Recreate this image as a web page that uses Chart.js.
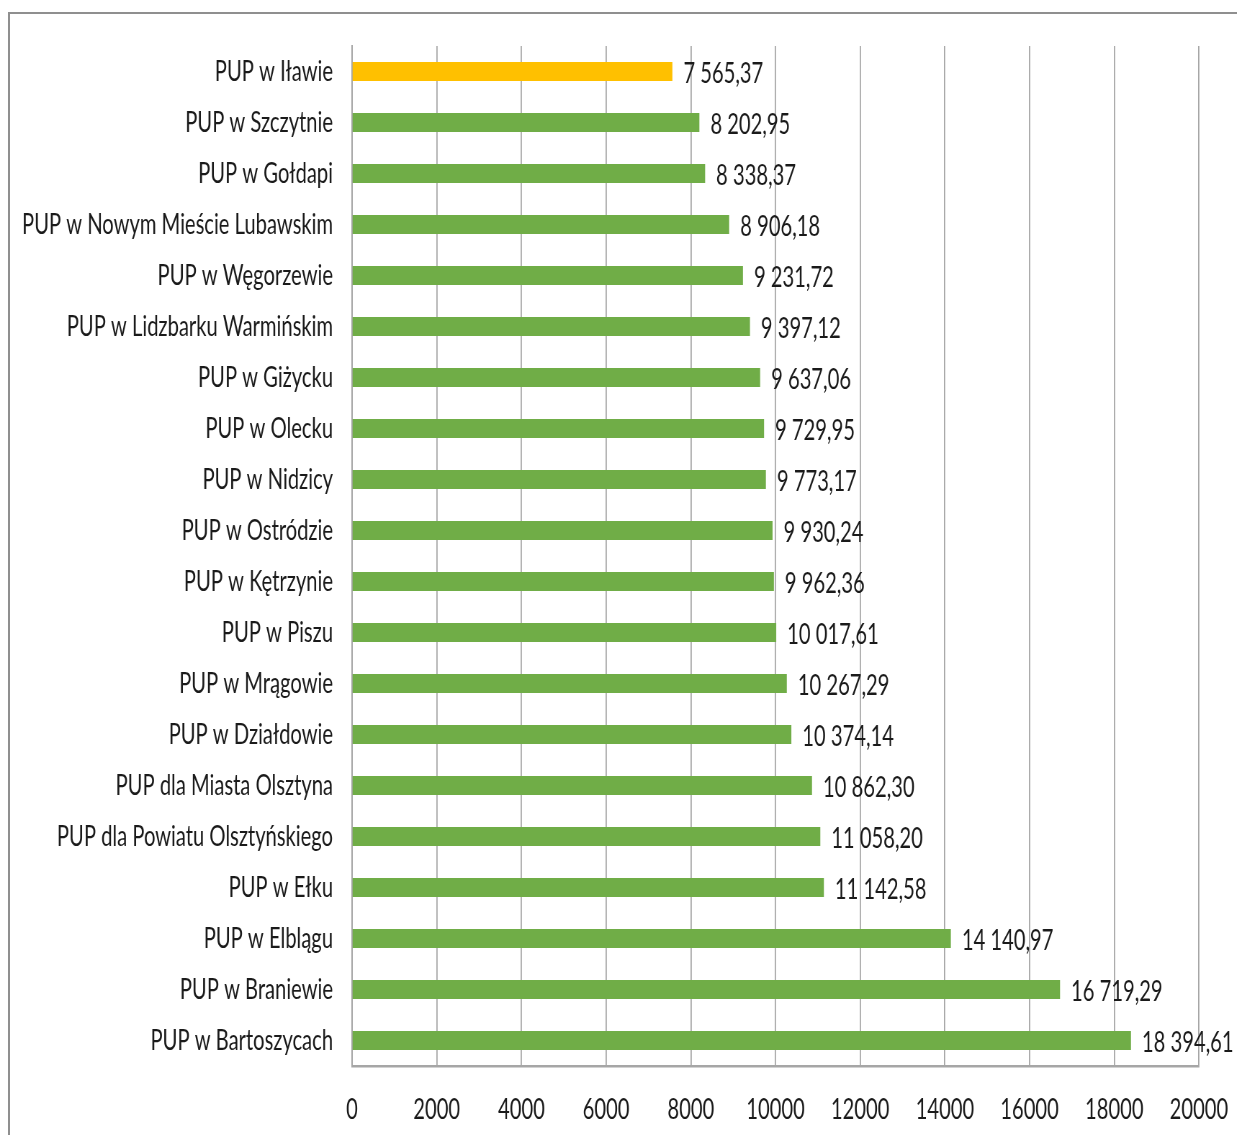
<!DOCTYPE html>
<html>
<head>
<meta charset="utf-8">
<script src="https://cdn.jsdelivr.net/npm/chart.js@4/dist/chart.umd.min.js"></script>
<style>
  html, body { margin: 0; padding: 0; background: #fff; }
  #wrap { position: relative; width: 1237px; height: 1135px; overflow: hidden; }
  #frame { position: absolute; left: 8px; top: 12px; right: -5px; bottom: -5px;
           border-top: 2px solid #8f8f8f; border-left: 2px solid #8f8f8f; }
  canvas { position: absolute; left: 0; top: 0; transform-origin: 0 0; }
</style>
</head>
<body>
<div id="wrap">
  <div id="frame"></div>
  <canvas id="chart"></canvas>
</div>
<script>
// --- Data ---
const offices = [
    'PUP w Iławie',
    'PUP w Szczytnie',
    'PUP w Gołdapi',
    'PUP w Nowym Mieście Lubawskim',
    'PUP w Węgorzewie',
    'PUP w Lidzbarku Warmińskim',
    'PUP w Giżycku',
    'PUP w Olecku',
    'PUP w Nidzicy',
    'PUP w Ostródzie',
    'PUP w Kętrzynie',
    'PUP w Piszu',
    'PUP w Mrągowie',
    'PUP w Działdowie',
    'PUP dla Miasta Olsztyna',
    'PUP dla Powiatu Olsztyńskiego',
    'PUP w Ełku',
    'PUP w Elblągu',
    'PUP w Braniewie',
    'PUP w Bartoszycach'
];
const amounts = [
    7565.37, 8202.95, 8338.37, 8906.18, 9231.72, 9397.12, 9637.06, 9729.95, 9773.17, 9930.24,
    9962.36, 10017.61, 10267.29, 10374.14, 10862.30, 11058.20, 11142.58, 14140.97, 16719.29, 18394.61
];
const xTicks = [0, 2000, 4000, 6000, 8000, 10000, 12000, 14000, 16000, 18000, 20000];
const highlighted = 'PUP w Iławie';

// the original text is a narrow (squeezed) font, so the canvas is drawn wider and squeezed back
const SQUEEZE = 0.72;
const FONT = 'Lato, "Open Sans", sans-serif';
const TEXT = '#1a1a1a';

const canvas = document.getElementById('chart');
canvas.width = Math.round(1237 / SQUEEZE);
canvas.height = 1135;
canvas.style.width = canvas.width + 'px';
canvas.style.height = '1135px';
canvas.style.transform = 'scaleX(' + SQUEEZE + ')';

const px = (v) => v / SQUEEZE;

function formatPl(v) {
    const parts = v.toFixed(2).split('.');
    const whole = parts[0].replace(/\B(?=(\d{3})+(?!\d))/g, ' ');
    return whole + ',' + parts[1];
}

// draws the value next to each bar
const valueLabels = {
    id: 'valueLabels',
    afterDatasetsDraw(chart) {
        const ctx = chart.ctx;
        const meta = chart.getDatasetMeta(0);
        ctx.save();
        ctx.font = '28px ' + FONT;
        ctx.fillStyle = TEXT;
        ctx.textAlign = 'left';
        ctx.textBaseline = 'middle';
        meta.data.forEach((bar, i) => {
            ctx.fillText(formatPl(amounts[i]), bar.x + px(11), bar.y + 2);
        });
        ctx.restore();
    }
};

new Chart(canvas.getContext('2d'), {
    type: 'bar',
    data: {
        labels: offices,
        datasets: [{
            data: amounts,
            backgroundColor: offices.map(o => o === highlighted ? '#ffc000' : '#70ad47'),
            borderWidth: 0,
            barPercentage: 0.37,
            categoryPercentage: 1
        }]
    },
    options: {
        indexAxis: 'y',
        responsive: false,
        animation: false,
        devicePixelRatio: 1,
        layout: { padding: { top: 46, right: px(38), left: 0, bottom: 0 } },
        plugins: { legend: { display: false }, tooltip: { enabled: false } },
        scales: {
            x: {
                min: 0,
                max: 20000,
                afterBuildTicks: (scale) => { scale.ticks = xTicks.map(v => ({ value: v })); },
                afterFit: (scale) => {
                    scale.height = 69;
                    scale.paddingLeft = 0;
                    scale.paddingRight = 0;
                },
                grid: { color: '#a6a6a6', lineWidth: 1.8, drawTicks: false },
                border: { color: '#a6a6a6', width: 2.5 },
                ticks: { color: TEXT, padding: 27, maxRotation: 0, autoSkip: false,
                         callback: (v) => String(v), font: { family: FONT, size: 28 } }
            },
            y: {
                afterFit: (scale) => { scale.width = px(352); },
                grid: { display: false, drawTicks: false },
                border: { color: '#a6a6a6', width: 2 },
                ticks: { color: TEXT, padding: px(19), autoSkip: false, font: { family: FONT, size: 28 } }
            }
        }
    },
    plugins: [valueLabels]
});
</script>
</body>
</html>
